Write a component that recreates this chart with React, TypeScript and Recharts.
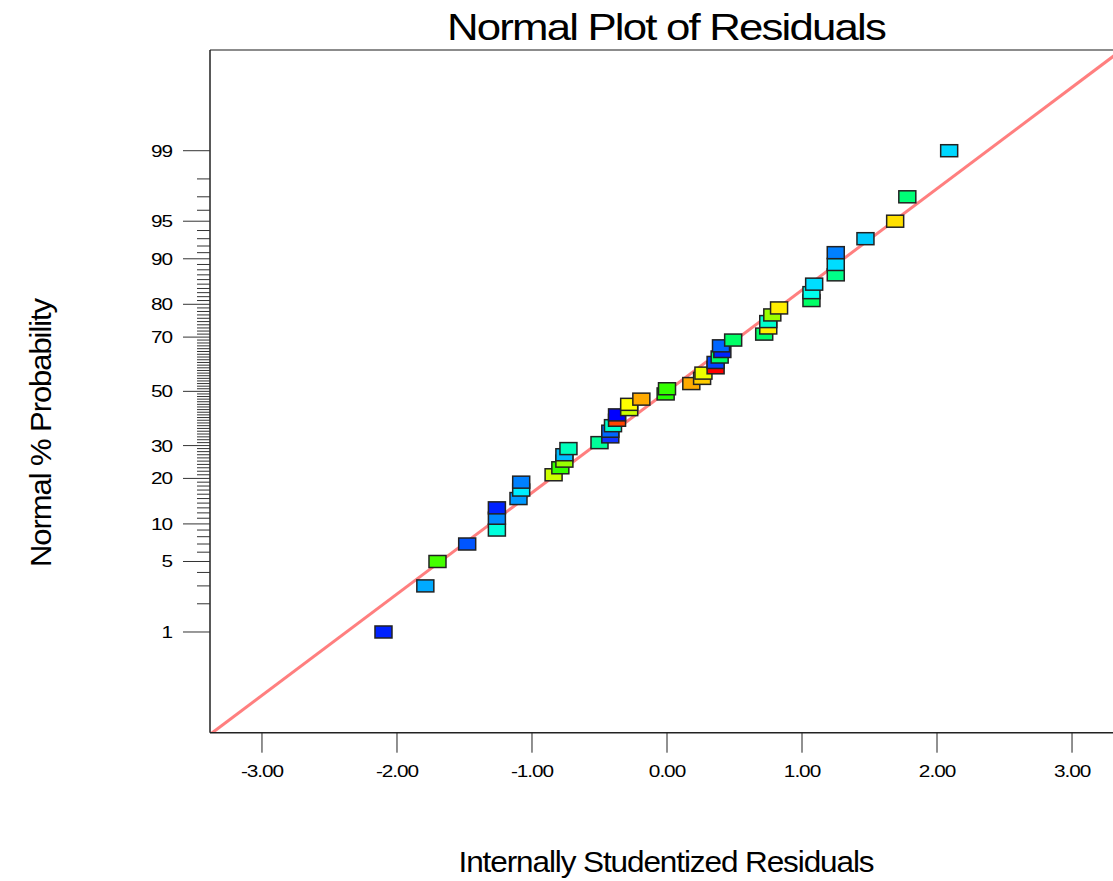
import React from 'react'
import { ScatterChart, Scatter, XAxis, YAxis, ReferenceLine } from 'recharts'

// residuals sorted ascending
const residuals = [
  -2.1, -1.79, -1.7, -1.48, -1.26, -1.26, -1.26, -1.1, -1.08, -1.08,
  -0.84, -0.79, -0.76, -0.76, -0.73, -0.5, -0.42, -0.42, -0.4, -0.37,
  -0.37, -0.28, -0.28, -0.19, -0.01, 0.0, 0.18, 0.26, 0.27, 0.36,
  0.36, 0.39, 0.41, 0.4, 0.49, 0.72, 0.75, 0.75, 0.78, 0.83,
  1.07, 1.07, 1.09, 1.25, 1.25, 1.25, 1.47, 1.69, 1.78, 2.09,
]

// normal % probability of each point
const probabilities = [
  1, 3, 5, 7, 9, 11, 13, 15, 17, 19,
  21, 23, 25, 27, 29, 31, 33, 35, 37, 39,
  41, 43, 45, 47, 49, 51, 53, 55, 57, 59,
  61, 63, 65, 67, 69, 71, 73, 75, 77, 79,
  81, 83, 85, 87, 89, 91, 93, 95, 97, 99,
]

const pointColors = [
  '#0022FF', '#00AAFF', '#44FF00', '#0055FF', '#00FFDD', '#0088FF', '#0022FF', '#0099FF', '#00EEFF', '#0080FF',
  '#CCFF00', '#33FF00', '#99FF00', '#00BBFF', '#00FFBB', '#00FF99', '#1133FF', '#0066FF', '#00FFCC', '#FF4400',
  '#0000FF', '#CCFF00', '#FFFF00', '#FFAA00', '#22FF00', '#33FF00', '#FFAA00', '#FFCC00', '#EEFF00', '#FF0000',
  '#0044FF', '#00FF66', '#0022FF', '#0066FF', '#00FF66', '#00FF66', '#FFEE00', '#00FFCC', '#99FF00', '#FFEE00',
  '#00FF66', '#00FFEE', '#00DDFF', '#00FF88', '#00DDFF', '#0080FF', '#00CCFF', '#FFE000', '#00FF77', '#00D8FF',
]

const xTicks = [-3, -2, -1, 0, 1, 2, 3]
const majorPercents = [1, 5, 10, 20, 30, 50, 70, 80, 90, 95, 99]
const fitLineX = [-3.385, 3.385]
const fitLineZ = [-3.317, 3.317]

// inverse normal cdf (Acklam), used for the probability axis
function probit(p: number) {
  const a = [-39.69683028665376, 220.9460984245205, -275.9285104469687, 138.357751867269, -30.66479806614716, 2.506628277459239]
  const b = [-54.47609879822406, 161.5858368580409, -155.6989798598866, 66.80131188771972, -13.28068155288572]
  const c = [-0.007784894002430293, -0.3223964580411365, -2.400758277161838, -2.549732539343734, 4.374664141464968, 2.938163982698783]
  const d = [0.007784695709041462, 0.3224671290700398, 2.445134137142996, 3.754408661907416]
  const plow = 0.02425
  if (p < plow) {
    const q = Math.sqrt(-2 * Math.log(p))
    return (((((c[0] * q + c[1]) * q + c[2]) * q + c[3]) * q + c[4]) * q + c[5]) / ((((d[0] * q + d[1]) * q + d[2]) * q + d[3]) * q + 1)
  }
  if (p > 1 - plow) {
    const q = Math.sqrt(-2 * Math.log(1 - p))
    return -(((((c[0] * q + c[1]) * q + c[2]) * q + c[3]) * q + c[4]) * q + c[5]) / ((((d[0] * q + d[1]) * q + d[2]) * q + d[3]) * q + 1)
  }
  const q = p - 0.5
  const r = q * q
  return (((((a[0] * r + a[1]) * r + a[2]) * r + a[3]) * r + a[4]) * r + a[5]) * q / (((((b[0] * r + b[1]) * r + b[2]) * r + b[3]) * r + b[4]) * r + 1)
}

const allPercents: number[] = []
for (let p = 1; p <= 99; p++) allPercents.push(p)
const yTickEntries = allPercents.map((p) => ({ p, z: probit(p / 100) }))

const points = residuals.map((r, i) => ({
  x: r,
  z: probit(probabilities[i] / 100),
  color: pointColors[i],
}))

const FONT = '"Liberation Sans", Arial, sans-serif'

function ProbTick(props: any) {
  const { x, y, payload } = props
  const entry = yTickEntries.find((e) => Math.abs(e.z - payload.value) < 1e-9)
  if (!entry) return null
  const major = majorPercents.includes(entry.p)
  return (
    <g>
      <line x1={x - (major ? 27 : 13)} x2={x} y1={y} y2={y} stroke="#333" strokeWidth={1} />
      {major && (
        <text
          transform={`translate(${x - 38},${y + 6}) scale(1.3,1)`}
          textAnchor="end"
          fontSize={16}
          fontFamily={FONT}
          letterSpacing={-0.8}
          fill="#000"
        >
          {entry.p}
        </text>
      )}
    </g>
  )
}

function ResidTick(props: any) {
  const { x, y, payload } = props
  return (
    <text
      transform={`translate(${x},${y + 24}) scale(1.3,1)`}
      textAnchor="middle"
      fontSize={16}
      fontFamily={FONT}
      letterSpacing={-0.8}
      fill="#000"
    >
      {payload.value.toFixed(2)}
    </text>
  )
}

function SquareMark(props: any) {
  const { cx, cy, payload } = props
  return (
    <rect x={cx - 8.5} y={cy - 6} width={17} height={12} fill={payload.color} stroke="#222" strokeWidth={1.5} />
  )
}

export default function App() {
  return (
    <div style={{ position: 'absolute', left: 0, top: 0, width: 1113, height: 881, overflow: 'hidden', background: '#fff' }}>
      <ScatterChart width={1140} height={881} margin={{ top: 50, right: 16, left: 0, bottom: 0 }}>
        <XAxis
          type="number"
          dataKey="x"
          domain={[-3.385, 3.385]}
          ticks={xTicks}
          allowDataOverflow
          height={148.3}
          tickSize={20}
          tickMargin={0}
          tickLine={{ stroke: '#222' }}
          axisLine={{ stroke: '#222', strokeWidth: 1.5 }}
          tick={<ResidTick />}
          interval={0}
        />
        <YAxis
          type="number"
          dataKey="z"
          domain={[-3.3, 3.3]}
          ticks={yTickEntries.map((e) => e.z)}
          allowDataOverflow
          width={210}
          tickSize={0}
          tickMargin={0}
          tickLine={false}
          axisLine={{ stroke: '#222', strokeWidth: 1.5 }}
          tick={<ProbTick />}
          interval={0}
        />
        <ReferenceLine y={3.3} stroke="#666" strokeWidth={1.5} />
        <ReferenceLine
          segment={[
            { x: fitLineX[0], y: fitLineZ[0] },
            { x: fitLineX[1], y: fitLineZ[1] },
          ]}
          stroke="#FF7F7F"
          strokeWidth={3}
          ifOverflow="hidden"
        />
        <Scatter data={points} shape={<SquareMark />} isAnimationActive={false} />
      </ScatterChart>
      <svg width={1113} height={881} style={{ position: 'absolute', left: 0, top: 0, pointerEvents: 'none' }}>
        <text x={666} y={40} textAnchor="middle" fontSize={36} fontFamily={FONT} letterSpacing={-1.5} textLength={438} lengthAdjust="spacingAndGlyphs">
          Normal Plot of Residuals
        </text>
        <text x={666} y={872} textAnchor="middle" fontSize={29} fontFamily={FONT} letterSpacing={-1} textLength={415} lengthAdjust="spacingAndGlyphs">
          Internally Studentized Residuals
        </text>
        <text
          transform="translate(51,433) rotate(-90)"
          textAnchor="middle"
          fontSize={29}
          fontFamily={FONT}
          letterSpacing={-1}
          textLength={268}
          lengthAdjust="spacingAndGlyphs"
        >
          Normal % Probability
        </text>
      </svg>
    </div>
  )
}
